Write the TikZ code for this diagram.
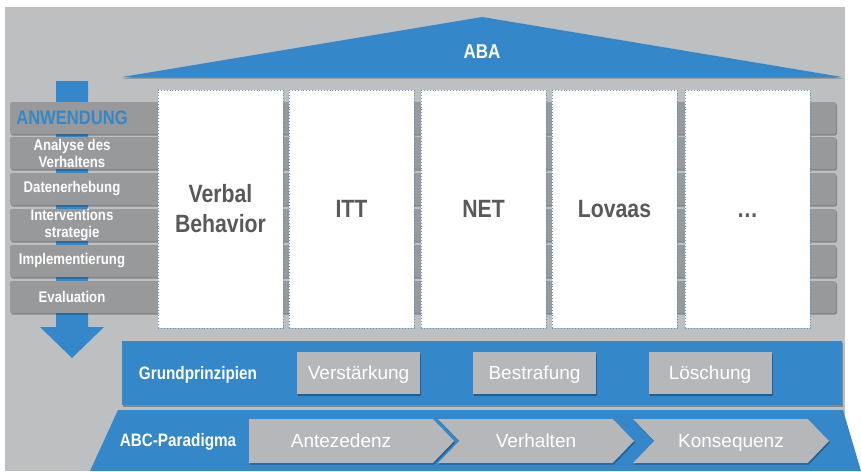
\documentclass[tikz,border=0pt]{standalone}
\usepackage{fontspec}
\setmainfont{Liberation Sans}
\newfontfamily\condfont{Liberation Sans}[FakeStretch=0.85]
\usepackage{tikz}
\usetikzlibrary{positioning, shapes.symbols, shadows}

\definecolor{bggray}{RGB}{190,191,193}
\definecolor{rowgray}{RGB}{152,153,155}
\definecolor{boxgray}{RGB}{182,183,185}
\definecolor{abablue}{RGB}{52,135,201}
\definecolor{dotblue}{RGB}{70,150,215}
\definecolor{textdark}{RGB}{88,89,91}
\newcommand{\fsz}[2]{\fontsize{#1}{#2}\selectfont}

\begin{document}
\begin{tikzpicture}[x=1pt, y=-1pt,
    softshadow/.style={drop shadow={shadow xshift=1pt, shadow yshift=-1.5pt, fill=black, opacity=0.3}},
    rowlabel/.style={text=white, align=center, inner sep=0pt, font=\condfont\bfseries\fsz{15.5}{17}},
    headlabel/.style={text=abablue, inner sep=0pt, font=\condfont\bfseries\fsz{19.5}{21}},
    column/.style={draw=dotblue, dotted, line width=0.9pt, fill=white, minimum width=125pt,
      minimum height=238pt, inner sep=0pt, align=center, text=textdark, font=\condfont\bfseries\fsz{25}{30}},
    bandlabel/.style={text=white, inner sep=0pt, font=\condfont\bfseries\fsz{18}{20}},
    graybox/.style={fill=boxgray, minimum width=123pt, minimum height=42pt, text=white,
      text height=13.6pt, text depth=0pt, font=\fsz{19}{21}, softshadow},
    chevron/.style={shape=signal, signal pointer angle=92, fill=boxgray, minimum width=196pt,
      minimum height=44pt, inner sep=0pt, text height=13.6pt, text depth=0pt, text=white,
      font=\fsz{19}{21}, softshadow}]

    \useasboundingbox (0,0) rectangle (861,471);
    \fill[bggray] (5,7) rectangle (845,471);

    % Draw roof
    \fill[abablue, softshadow] (122,77) -- (482,17) -- (842,77) -- cycle;
    \node[text=white, font=\condfont\bfseries\fsz{20}{22}] (aba) at (482,52) {ABA};

    % Draw arrow behind the steps
    \fill[abablue] (56,81) -- (88,81) -- (88,327) -- (104,327) -- (72,358)
      -- (40,327) -- (56,327) -- cycle;

    % Steps of Anwendung
    \foreach \y/\n/\s/\t in {118/anw/headlabel/ANWENDUNG, 153/ana/rowlabel/{Analyse des\\Verhaltens},
        189/daten/rowlabel/Datenerhebung, 225/interv/rowlabel/{Interventions\\strategie},
        261/impl/rowlabel/Implementierung, 297/eval/rowlabel/Evaluation} {
      \fill[rowgray, rounded corners=2pt, softshadow] (10,\y-16) rectangle (836,\y+16);
      \node[\s] (\n) at (72,\y) {\t};
    }

    % Pillars
    \foreach \i/\x/\t in {1/220.5/{Verbal\\Behavior}, 2/351.5/ITT, 3/483.5/NET, 4/614.5/Lovaas,
        5/747.5/{\vphantom{I}\ldots}} {
      \node[column] (col\i) at (\x,209) {\t};
    }

    % Grundprinzipien
    \fill[abablue, softshadow] (122,341) rectangle (842,405);
    \node[bandlabel] (grund) at (198,375) {Grundprinzipien};
    \foreach \n/\x/\t in {verst/358.5/Verstärkung, bestr/534.5/Bestrafung, loesch/710/Löschung} {
      \node[graybox] (\n) at (\x,373) {\t};
    }

    % ABC-Paradigma
    \fill[abablue] (118,410) -- (843,410) -- (861,471) -- (90,471) -- cycle;
    \node[bandlabel] (abc) at (178,442) {ABC-Paradigma};
    \node[chevron, signal to=east, minimum width=205pt] (ante) at (341,441) {Antezedenz};
    \node[chevron, signal from=west, signal to=east] (verh) at (536,441) {Verhalten};
    \node[chevron, signal from=west, signal to=east] (kons) at (731,441) {Konsequenz};

\end{tikzpicture}
\end{document}
